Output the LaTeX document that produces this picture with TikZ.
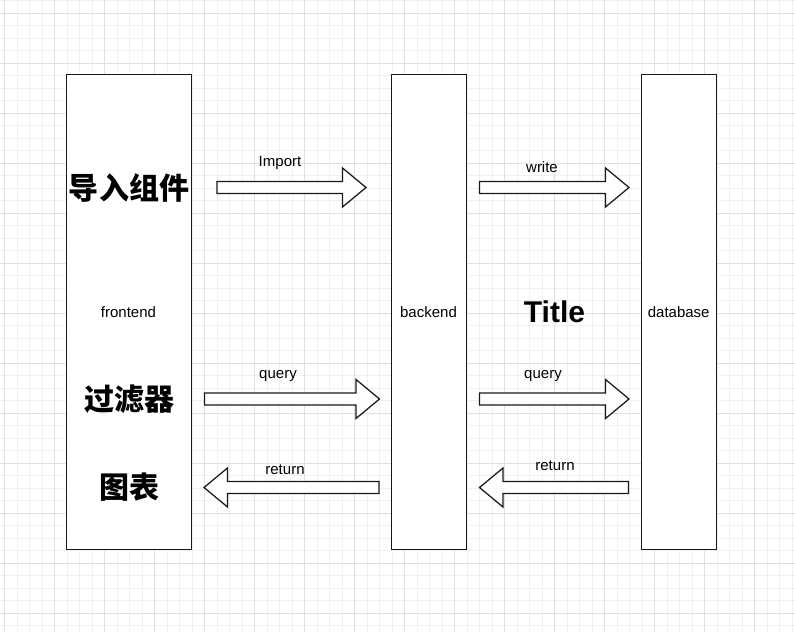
\documentclass[tikz,border=0pt]{standalone}
\usepackage{fontspec}
\setmainfont{Liberation Sans}
\newfontfamily\cjk{Noto Sans CJK SC}
\usetikzlibrary{calc}

\newcommand\blockarrow[2]{%
	\coordinate (hb) at ($(#2)!23.5bp!(#1)$);
	\draw[fatarrow] ($(#1)!6bp!90:(#2)$) -- ($(hb)!6bp!-90:(#1)$) -- ($(hb)!19.5bp!-90:(#1)$) -- (#2)
		-- ($(hb)!19.5bp!90:(#1)$) -- ($(hb)!6bp!90:(#1)$) -- ($(#1)!6bp!-90:(#2)$) -- cycle;}

\begin{document}
\begin{tikzpicture}[x=1bp,y=-1bp,
		lane/.style={draw=black!90,line width=1.5bp,fill=white},
		fatarrow/.style={draw=black!90,line width=1.25bp,fill=white,line join=miter},
		small/.style={font=\fontsize{15bp}{18bp}\selectfont,inner sep=0pt},
		big/.style={font=\fontsize{30bp}{36bp}\selectfont\bfseries,inner sep=0pt},
		bigcjk/.style={font=\fontsize{30bp}{36bp}\selectfont\cjk\bfseries,inner sep=0pt}]
	\useasboundingbox (0,0) rectangle (795,632);
	\fill[white] (0,0) rectangle (795,632);
	\foreach \x in {4.5,17,...,795} \draw[black!6,line width=0.9bp] (\x,0) -- (\x,632);
	\foreach \y in {0.5,13,...,632} \draw[black!6,line width=0.9bp] (0,\y) -- (795,\y);
	\foreach \x in {4.5,54.5,...,795} \draw[black!12,line width=0.9bp] (\x,0) -- (\x,632);
	\foreach \y in {13,63,...,632} \draw[black!12,line width=0.9bp] (0,\y) -- (795,\y);

	\draw[lane] (66.5,74.5) rectangle (191.5,549.5);
	\draw[lane] (391.5,74.5) rectangle (466.5,549.5);
	\draw[lane] (641.5,74.5) rectangle (716.5,549.5);

	\node[small] (front) at (128.5,312) {frontend};
	\node[small] (back) at (428.5,312) {backend};
	\node[small] (db) at (678.7,312) {database};
	\node[big] (title) at (554.5,311.5) {Title};
	\node[bigcjk] (import) at (129,188) {导入组件};
	\node[bigcjk] (filter) at (129,399) {过滤器};
	\node[bigcjk] (chart) at (129,487) {图表};

	\coordinate (imp-s) at (217,187.5);   \coordinate (imp-e) at (366,187.5);
	\coordinate (wr-s) at (479.5,187.5);  \coordinate (wr-e) at (629,187.5);
	\coordinate (qa-s) at (204.5,399);    \coordinate (qa-e) at (379.5,399);
	\coordinate (qb-s) at (479.5,399);    \coordinate (qb-e) at (629,399);
	\coordinate (ra-s) at (379,487.5);    \coordinate (ra-e) at (204,487.5);
	\coordinate (rb-s) at (628.5,487.5);  \coordinate (rb-e) at (479.5,487.5);
	\foreach \a in {imp,wr,qa,qb,ra,rb} \blockarrow{\a-s}{\a-e};

	\node[small] (l-imp) at (280,163) {Import};
	\node[small] (l-wr) at (542,167) {write};
	\node[small] (l-qa) at (278,376.5) {query};
	\node[small] (l-qb) at (543,376) {query};
	\node[small] (l-ra) at (285,470) {return};
	\node[small] (l-rb) at (555,466) {return};
\end{tikzpicture}
\end{document}
